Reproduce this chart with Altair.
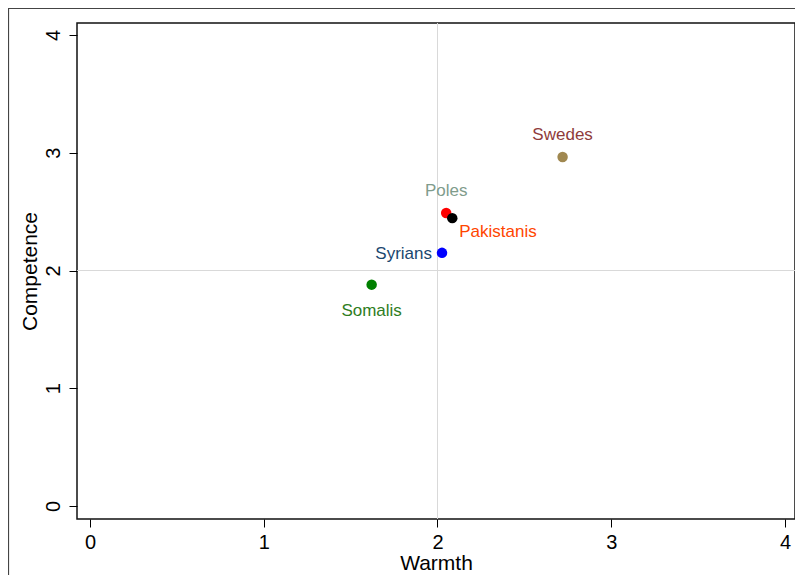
import altair as alt
import pandas as pd

groups = ["Swedes", "Poles", "Pakistanis", "Syrians", "Somalis"]
warmth = [2.72, 2.05, 2.085, 2.026, 1.621]
competence = [2.964, 2.488, 2.445, 2.15, 1.88]
point_colors = ["#a08850", "#ff0000", "#000000", "#0000ff", "#008000"]
label_colors = ["#8f3b3b", "#7f9c8c", "#ff4500", "#1a476f", "#2e7d1e"]
label_pos = ["above", "above", "belowright", "left", "below"]

ticks = [0, 1, 2, 3, 4]
ref_x = [2]
ref_y = [2]

df = pd.DataFrame({
    "group": groups, "warmth": warmth, "competence": competence,
    "pcol": point_colors, "lcol": label_colors, "pos": label_pos,
})

FONT = "Liberation Sans"
xs = alt.Scale(domain=[-0.0748, 4.0576], nice=False, zero=False)
ys = alt.Scale(domain=[-0.11, 4.102], nice=False, zero=False)

base = alt.Chart(df)

vline = alt.Chart(pd.DataFrame({"v": ref_x})).mark_rule(color="#d9d9d9", strokeWidth=1).encode(
    x=alt.X("v:Q", scale=xs))
hline = alt.Chart(pd.DataFrame({"v": ref_y})).mark_rule(color="#d9d9d9", strokeWidth=1).encode(
    y=alt.Y("v:Q", scale=ys))

points = base.mark_circle(size=110, opacity=1).encode(
    x=alt.X("warmth:Q", scale=xs, title="Warmth",
            axis=alt.Axis(values=ticks, format="d", grid=False, tickSize=8, labelPadding=5,
                          labelFontSize=20, titleFontSize=21, titlePadding=0,
                          labelFont=FONT, titleFont=FONT, titleFontWeight="normal",
                          domain=False, tickColor="#000", labelColor="#000", titleColor="#000")),
    y=alt.Y("competence:Q", scale=ys, title="Competence",
            axis=alt.Axis(values=ticks, format="d", grid=False, tickSize=8, labelPadding=6,
                          labelAngle=270, labelAlign="center", labelBaseline="bottom",
                          labelFontSize=20, titleFontSize=21, titlePadding=3,
                          labelFont=FONT, titleFont=FONT, titleFontWeight="normal",
                          domain=False, tickColor="#000", labelColor="#000", titleColor="#000")),
    color=alt.Color("pcol:N", scale=None),
)

def labels(pos, align, dx, dy):
    return base.transform_filter(alt.datum.pos == pos).mark_text(
        align=align, baseline="middle", dx=dx, dy=dy, fontSize=17, font=FONT
    ).encode(
        x=alt.X("warmth:Q", scale=xs),
        y=alt.Y("competence:Q", scale=ys),
        text="group:N",
        color=alt.Color("lcol:N", scale=None),
    )

lab_above = labels("above", "center", 0, -22)
lab_br = labels("belowright", "left", 7, 14)
lab_left = labels("left", "right", -10, 1)
lab_below = labels("below", "center", 0, 26)

frame_left = alt.Chart(pd.DataFrame({"a": [0]})).mark_rule(color="#444", strokeWidth=1.2).encode(
    x=alt.value(-68.5), y=alt.value(-15), y2=alt.value(620))
frame_top = alt.Chart(pd.DataFrame({"a": [0]})).mark_rule(color="#444", strokeWidth=1.2).encode(
    x=alt.value(-69), x2=alt.value(800), y=alt.value(-14.5))

chart = alt.layer(
    vline, hline, points, lab_above, lab_br, lab_left, lab_below, frame_left, frame_top
).properties(
    width=718, height=496,
    background="white",
    autosize=alt.AutoSizeParams(type="none"),
    padding={"left": 69, "top": 15, "right": 0, "bottom": 56},
).configure_view(
    stroke="#111", strokeWidth=1.5
)

chart.save("out.html", embed_options={"renderer": "svg", "actions": False})
